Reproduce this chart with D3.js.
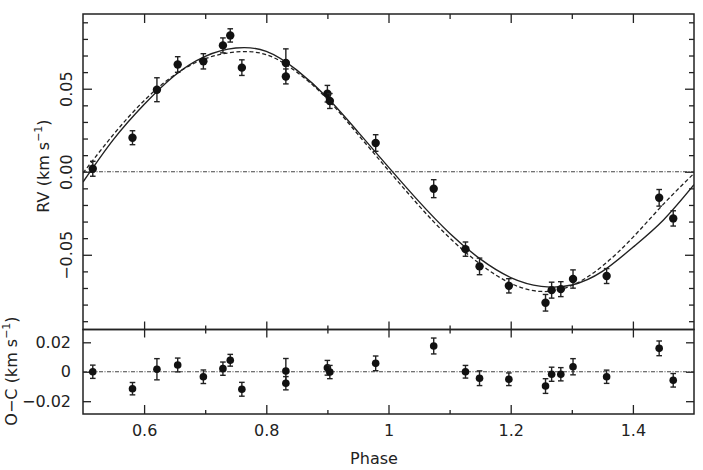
<!DOCTYPE html>
<html lang="en">
<head>
<meta charset="utf-8">
<title>RV and O-C vs Phase</title>
<script src="https://d3js.org/d3.v7.min.js"></script>
<style>
  body { margin: 0; background: #fff; }
  svg { display: block; }
  text { font-family: "DejaVu Sans", sans-serif; fill: #222; }
</style>
</head>
<body>
<div id="chart"></div>
<script>
var phase = [0.516, 0.581, 0.621, 0.655, 0.697, 0.729, 0.741, 0.760, 0.832, 0.832, 0.900, 0.904,
             0.979, 1.074, 1.126, 1.149, 1.197, 1.257, 1.267, 1.282, 1.302, 1.357, 1.443, 1.466];
var rv    = [0.0018, 0.0205, 0.0494, 0.0646, 0.0665, 0.0761, 0.0821, 0.0627, 0.0655, 0.0574, 0.0470, 0.0426,
             0.0173, -0.0102, -0.0466, -0.0570, -0.0687, -0.0789, -0.0713, -0.0707, -0.0646, -0.0628, -0.0157, -0.0281];
var oc    = [0.0000, -0.0115, 0.0017, 0.0046, -0.0034, 0.0021, 0.0078, -0.0119, 0.0005, -0.0078, 0.0027, -0.0002,
             0.0057, 0.0175, 0.0000, -0.0044, -0.0051, -0.0097, -0.0017, -0.0017, 0.0034, -0.0034, 0.0159, -0.0058];
var err   = [0.0045, 0.0042, 0.0072, 0.0047, 0.0046, 0.0045, 0.0040, 0.0047, 0.0085, 0.0045, 0.0050, 0.0045,
             0.0050, 0.0054, 0.0043, 0.0050, 0.0043, 0.0050, 0.0048, 0.0045, 0.0055, 0.0045, 0.0050, 0.0046];

// model curves, read at fixed phases
var modelPhase = [0.50, 0.55, 0.60, 0.65, 0.70, 0.75, 0.80, 0.85, 0.90, 0.95, 1.00,
                  1.05, 1.10, 1.15, 1.20, 1.25, 1.30, 1.35, 1.40, 1.45, 1.50];
var modelSolid = [-0.0062, 0.0195, 0.0405, 0.0580, 0.0695, 0.0745, 0.0725, 0.0612, 0.0445, 0.0240, 0.0028,
                  -0.0180, -0.0370, -0.0525, -0.0637, -0.0690, -0.0682, -0.0600, -0.0455, -0.0290, -0.0078];
var modelDash  = [-0.0008, 0.0225, 0.0428, 0.0584, 0.0681, 0.0721, 0.0705, 0.0600, 0.0437, 0.0225, 0.0008,
                  -0.0205, -0.0398, -0.0556, -0.0672, -0.0721, -0.0685, -0.0568, -0.0395, -0.0195, -0.0010];

// tick values
var xMajor = [0.6, 0.8, 1.0, 1.2, 1.4];
var xMinor = [0.7, 0.9, 1.1, 1.3];
var xLabels = ["0.6", "0.8", "1", "1.2", "1.4"];
var rvMajor = [-0.05, 0.0, 0.05];
var rvMinor = [-0.09, -0.08, -0.07, -0.06, -0.04, -0.03, -0.02, -0.01, 0.01, 0.02, 0.03, 0.04, 0.06, 0.07, 0.08, 0.09];
var rvLabels = ["\u22120.05", "0.00", "0.05"];
var ocMajor = [-0.02, 0, 0.02];
var ocLabels = ["\u22120.02", "0", "0.02"];

var W = 703, H = 470;
var pLeft = 83, pRight = 694, pTop = 14, pMid = 329.5, pBottom = 414;
var ink = "#222";

var svg = d3.select("#chart").append("svg")
    .attr("width", W).attr("height", H);

var x = d3.scaleLinear().domain([0.5, 1.5]).range([pLeft, pRight]);
var yUp = d3.scaleLinear().domain([-0.095, 0.095]).range([pMid, pTop]);
var yLo = d3.scaleLinear().domain([-0.0287, 0.0287]).range([pBottom, pMid]);

svg.append("defs").append("clipPath").attr("id", "clipUp")
  .append("rect").attr("x", pLeft).attr("y", pTop)
  .attr("width", pRight - pLeft).attr("height", pMid - pTop);

// helper to draw a set of ticks with an axis generator
function ticks(axis, tx, ty) {
  var g = svg.append("g")
      .attr("transform", "translate(" + tx + "," + ty + ")")
      .call(axis)
      .attr("font-size", 16)
      .attr("font-family", "DejaVu Sans, sans-serif");
  g.select(".domain").remove();
  g.selectAll(".tick line").attr("stroke", ink).attr("stroke-width", 1.3);
  return g;
}

// ---- x ticks ----
ticks(d3.axisTop(x).tickValues(xMajor).tickSize(-9).tickFormat(""), 0, pTop);
ticks(d3.axisTop(x).tickValues(xMinor).tickSize(-5).tickFormat(""), 0, pTop);
// divider: ticks poke both ways
ticks(d3.axisBottom(x).tickValues(xMajor).tickSize(8).tickFormat(""), 0, pMid);
ticks(d3.axisTop(x).tickValues(xMajor).tickSize(8).tickFormat(""), 0, pMid);
ticks(d3.axisBottom(x).tickValues(xMinor).tickSize(4).tickFormat(""), 0, pMid);
ticks(d3.axisTop(x).tickValues(xMinor).tickSize(4).tickFormat(""), 0, pMid);
var gxb = ticks(d3.axisBottom(x).tickValues(xMajor).tickSize(-9).tickPadding(11)
    .tickFormat(function(d, i) { return xLabels[i]; }), 0, pBottom);
gxb.selectAll("text").attr("fill", ink);
ticks(d3.axisBottom(x).tickValues(xMinor).tickSize(-4).tickFormat(""), 0, pBottom);

// ---- upper y ticks ----
var gyl = ticks(d3.axisLeft(yUp).tickValues(rvMajor).tickSize(-9)
    .tickFormat(function(d, i) { return rvLabels[i]; }), pLeft, 0);
gyl.selectAll("text")
    .attr("x", 0).attr("dy", 0)
    .attr("text-anchor", "middle")
    .attr("fill", ink)
    .attr("transform", "translate(-11,0) rotate(-90)");
ticks(d3.axisLeft(yUp).tickValues(rvMinor).tickSize(-5).tickFormat(""), pLeft, 0);
ticks(d3.axisRight(yUp).tickValues(rvMajor).tickSize(-9).tickFormat(""), pRight, 0);
ticks(d3.axisRight(yUp).tickValues(rvMinor).tickSize(-5).tickFormat(""), pRight, 0);

// ---- lower y ticks ----
var gll = ticks(d3.axisLeft(yLo).tickValues(ocMajor).tickSize(-8).tickPadding(12)
    .tickFormat(function(d, i) { return ocLabels[i]; }), pLeft, 0);
gll.selectAll("text").attr("fill", ink);
ticks(d3.axisRight(yLo).tickValues(ocMajor).tickSize(-8).tickFormat(""), pRight, 0);

// ---- zero lines ----
svg.append("line")
    .attr("x1", pLeft).attr("x2", pRight).attr("y1", yUp(0)).attr("y2", yUp(0))
    .attr("stroke", "#444").attr("stroke-width", 1.2).attr("stroke-dasharray", "4,1.5,1,1.5");
svg.append("line")
    .attr("x1", pLeft).attr("x2", pRight).attr("y1", yLo(0)).attr("y2", yLo(0))
    .attr("stroke", "#444").attr("stroke-width", 1.2).attr("stroke-dasharray", "4,1.5,1,1.5");

// ---- model curves ----
var lineModel = d3.line().curve(d3.curveNatural)
    .x(function(d, i) { return x(modelPhase[i]); })
    .y(function(d) { return yUp(d); });

svg.append("path").datum(modelSolid)
    .attr("clip-path", "url(#clipUp)")
    .attr("fill", "none").attr("stroke", ink).attr("stroke-width", 1.4)
    .attr("d", lineModel);
svg.append("path").datum(modelDash)
    .attr("clip-path", "url(#clipUp)")
    .attr("fill", "none").attr("stroke", ink).attr("stroke-width", 1.3)
    .attr("stroke-dasharray", "4,2.5")
    .attr("d", lineModel);

// ---- data points with error bars ----
function points(yScale, vals, r) {
  var g = svg.append("g");
  var cap = 2.8;
  phase.forEach(function(p, i) {
    var cx = x(p), y1 = yScale(vals[i] - err[i]), y2 = yScale(vals[i] + err[i]);
    g.append("line").attr("x1", cx).attr("x2", cx).attr("y1", y1).attr("y2", y2)
        .attr("stroke", ink).attr("stroke-width", 1.4);
    g.append("line").attr("x1", cx - cap).attr("x2", cx + cap).attr("y1", y1).attr("y2", y1)
        .attr("stroke", ink).attr("stroke-width", 1.4);
    g.append("line").attr("x1", cx - cap).attr("x2", cx + cap).attr("y1", y2).attr("y2", y2)
        .attr("stroke", ink).attr("stroke-width", 1.4);
    g.append("circle").attr("cx", cx).attr("cy", yScale(vals[i])).attr("r", r).attr("fill", "#111");
  });
}
points(yUp, rv, 4.2);
points(yLo, oc, 3.8);

// ---- frames ----
svg.append("rect").attr("x", pLeft).attr("y", pTop)
    .attr("width", pRight - pLeft).attr("height", pMid - pTop)
    .attr("fill", "none").attr("stroke", ink).attr("stroke-width", 1.5);
svg.append("rect").attr("x", pLeft).attr("y", pMid)
    .attr("width", pRight - pLeft).attr("height", pBottom - pMid)
    .attr("fill", "none").attr("stroke", ink).attr("stroke-width", 1.5);

// ---- axis titles ----
svg.append("text")
    .attr("x", 374).attr("y", 464)
    .attr("text-anchor", "middle").attr("font-size", 16)
    .text("Phase");

var t1 = svg.append("text")
    .attr("transform", "translate(49,166) rotate(-90)")
    .attr("text-anchor", "middle").attr("font-size", 16);
t1.append("tspan").text("RV (km s");
t1.append("tspan").attr("font-size", 11).attr("dy", -7).text("\u22121");
t1.append("tspan").attr("dy", 7).text(")");

var t2 = svg.append("text")
    .attr("transform", "translate(17,371) rotate(-90)")
    .attr("text-anchor", "middle").attr("font-size", 16);
t2.append("tspan").text("O\u2212C (km s");
t2.append("tspan").attr("font-size", 11).attr("dy", -7).text("\u22121");
t2.append("tspan").attr("dy", 7).text(")");
</script>
</body>
</html>
